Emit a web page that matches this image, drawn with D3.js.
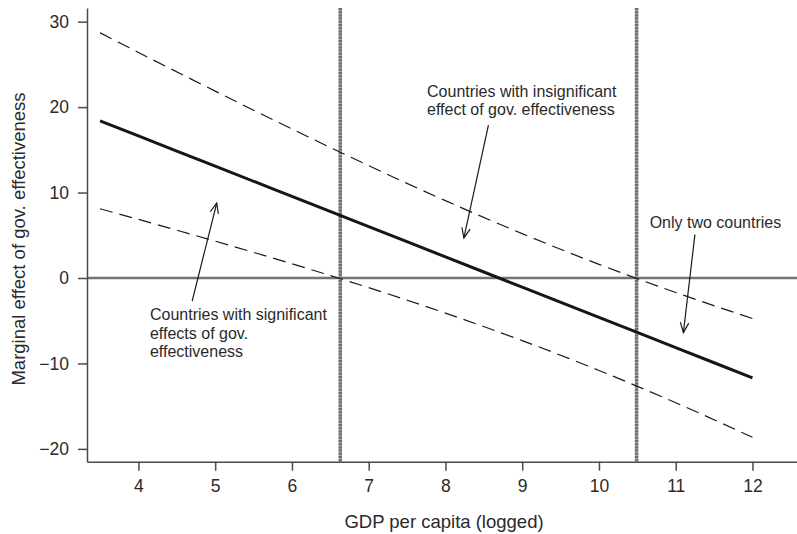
<!DOCTYPE html>
<html>
<head>
<meta charset="utf-8">
<script src="https://cdn.jsdelivr.net/npm/d3@7"></script>
<style>
  html, body { margin: 0; padding: 0; background: #fff; }
  svg { display: block; }
  text { font-family: "Liberation Sans", Arial, Helvetica, sans-serif; fill: #2a2a2a; }
</style>
</head>
<body>
<svg id="chart" width="797" height="534"></svg>
<script>
// Marginal effect of government effectiveness across logged GDP per capita
const gdp      = [3.5, 4, 5, 6, 7, 8, 9, 10, 11, 12];
const effect   = [18.4, 16.63, 13.09, 9.55, 6.01, 2.47, -1.07, -4.61, -8.15, -11.69];
const upperCI  = [28.70, 26.40, 21.87, 17.44, 13.15, 9.05, 5.19, 1.60, -1.70, -4.74];
const lowerCI  = [8.10, 6.86, 4.31, 1.66, -1.13, -4.11, -7.33, -10.82, -14.60, -18.64];

// GDP levels where the confidence band crosses zero
const thresholds = [6.63, 10.49];

const xTicks = [4, 5, 6, 7, 8, 9, 10, 11, 12];
const yTicks = [-20, -10, 0, 10, 20, 30];

// Notes: text lines, anchor (data units), arrow tail and tip (data units)
const notes = [
  { lines: ["Countries with significant", "effects of gov.", "effectiveness"],
    at: [4.15, -4.96], tail: [4.70, -2.71], tip: [5.02, 8.77] },
  { lines: ["Countries with insignificant", "effect of gov. effectiveness"],
    at: [7.76, 21.2], tail: [8.56, 17.9], tip: [8.24, 4.69] },
  { lines: ["Only two countries"],
    at: [10.66, 5.86], tail: [11.25, 5.08], tip: [11.10, -6.39] }
];

const svg = d3.select("#chart");

const x = d3.scaleLinear().domain([3.33, 12.58]).range([87, 797]);
const y = d3.scaleLinear().domain([-21.5, 31.6]).range([461.7, 8]);

// zero reference line
svg.append("line")
  .attr("x1", x.range()[0]).attr("x2", x.range()[1])
  .attr("y1", y(0)).attr("y2", y(0))
  .attr("stroke", "#747474").attr("stroke-width", 2.6);

// threshold lines: light grey base with a darker dotted texture
const thr = svg.selectAll("g.threshold").data(thresholds).join("g").attr("class", "threshold");
thr.append("line")
  .attr("x1", d => x(d)).attr("x2", d => x(d))
  .attr("y1", y.range()[1]).attr("y2", y.range()[0])
  .attr("stroke", "#a8a8a8").attr("stroke-width", 3.4);
thr.append("line")
  .attr("x1", d => x(d)).attr("x2", d => x(d))
  .attr("y1", y.range()[1]).attr("y2", y.range()[0])
  .attr("stroke", "#6c6c6c").attr("stroke-width", 3.4)
  .attr("stroke-dasharray", "2,1.2");

const line = (vals) => d3.line()
  .x((d, i) => x(gdp[i]))
  .y(d => y(d))
  .curve(d3.curveMonotoneX)(vals);

// confidence band
[upperCI, lowerCI].forEach(vals => {
  svg.append("path")
    .attr("d", line(vals))
    .attr("fill", "none")
    .attr("stroke", "#1a1a1a")
    .attr("stroke-width", 1.2)
    .attr("stroke-dasharray", "13,7");
});

// point estimate
svg.append("path")
  .attr("d", line(effect))
  .attr("fill", "none")
  .attr("stroke", "#161616")
  .attr("stroke-width", 3);

// arrow marker
svg.append("defs").append("marker")
  .attr("id", "arrow")
  .attr("viewBox", "-12 -6 14 12")
  .attr("refX", 0).attr("refY", 0)
  .attr("markerWidth", 14).attr("markerHeight", 12)
  .attr("markerUnits", "userSpaceOnUse")
  .attr("orient", "auto")
  .append("path")
  .attr("d", "M-10,-4.2 L0,0 L-10,4.2")
  .attr("fill", "none")
  .attr("stroke", "#1a1a1a")
  .attr("stroke-width", 1.2);

const noteG = svg.append("g");
notes.forEach(n => {
  noteG.append("line")
    .attr("x1", x(n.tail[0])).attr("y1", y(n.tail[1]))
    .attr("x2", x(n.tip[0])).attr("y2", y(n.tip[1]))
    .attr("stroke", "#1a1a1a").attr("stroke-width", 1.2)
    .attr("marker-end", "url(#arrow)");
  const t = noteG.append("text")
    .attr("x", x(n.at[0])).attr("y", y(n.at[1]))
    .attr("font-size", 16);
  n.lines.forEach((s, i) => {
    t.append("tspan")
      .attr("x", x(n.at[0]))
      .attr("dy", i === 0 ? 0 : 18.3)
      .text(s);
  });
});

// axes
const xAxis = svg.append("g")
  .attr("transform", `translate(0,${y.range()[0]})`)
  .call(d3.axisBottom(x).tickValues(xTicks).tickSize(9).tickSizeOuter(0).tickPadding(9));
const yAxis = svg.append("g")
  .attr("transform", `translate(${x.range()[0]},0)`)
  .call(d3.axisLeft(y).tickValues(yTicks).tickSize(9).tickSizeOuter(0).tickPadding(9));

[xAxis, yAxis].forEach(g => {
  g.selectAll(".domain").attr("stroke", "#4a4a4a").attr("stroke-width", 1.5);
  g.selectAll(".tick line").attr("stroke", "#4a4a4a").attr("stroke-width", 1.5);
  g.selectAll(".tick text")
    .attr("font-size", 17.5)
    .attr("font-family", "\"Liberation Sans\", Arial, Helvetica, sans-serif")
    .attr("fill", "#2a2a2a");
});

// axis titles
svg.append("text")
  .attr("x", 444).attr("y", 527.5)
  .attr("text-anchor", "middle")
  .attr("font-size", 18.5)
  .text("GDP per capita (logged)");

svg.append("text")
  .attr("transform", "translate(24.5,239) rotate(-90)")
  .attr("text-anchor", "middle")
  .attr("font-size", 18.5)
  .text("Marginal effect of gov. effectiveness");
</script>
</body>
</html>
